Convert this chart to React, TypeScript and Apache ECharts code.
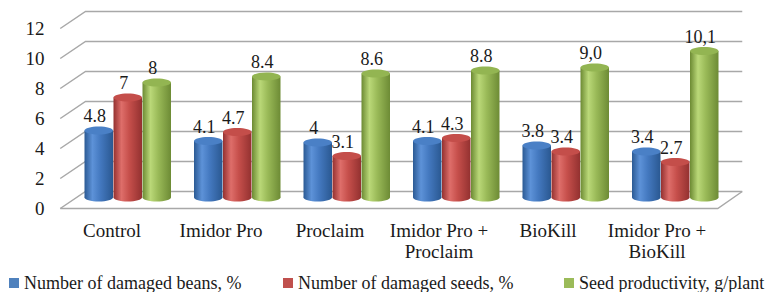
import React, { useEffect, useRef } from "react";
import * as echarts from "echarts";

const categories = ["Control", "Imidor Pro", "Proclaim", "Imidor Pro +\nProclaim", "BioKill", "Imidor Pro +\nBioKill"];
const seriesNames = ["Number of damaged beans, %", "Number of damaged seeds, %", "Seed productivity, g/plant"];
const beans = [4.8, 4.1, 4, 4.1, 3.8, 3.4];
const seeds = [7, 4.7, 3.1, 4.3, 3.4, 2.7];
const productivity = [8, 8.4, 8.6, 8.8, 9.0, 10.1];
const beansLabels = ["4.8", "4.1", "4", "4.1", "3.8", "3.4"];
const seedsLabels = ["7", "4.7", "3.1", "4.3", "3.4", "2.7"];
const productivityLabels = ["8", "8.4", "8.6", "8.8", "9,0", "10,1"];
const yTicks = [0, 2, 4, 6, 8, 10, 12];

const FONT = '"Liberation Serif", "Times New Roman", serif';
const GRID_COLOR = "#a8a8a8";

const palettes = [
  { legend: "#4f81bd", side: ["#2b5a94", "#5d92d8", "#4479c0", "#2a5891"], top: "#4a80c6" },
  { legend: "#c0504d", side: ["#943130", "#de6e6a", "#c64f4b", "#933130"], top: "#c44e4a" },
  { legend: "#9bbb59", side: ["#6c8a33", "#bad878", "#9aba58", "#6d8b35"], top: "#93b552" },
];
const offsets = [-29, 0, 29];

function makeBarRender(idx: number, labels: string[]) {
  return (params: any, api: any) => {
    const ci = api.value(0);
    const v = api.value(1);
    const top = api.coord([ci, v]);
    const base = api.coord([ci, 0]);
    const cx = top[0] + offsets[idx];
    const w = 28.5;
    const rx = w / 2;
    const ry = 4;
    const yTop = top[1];
    const yBot = base[1] - 5;
    const p = palettes[idx];
    const grad = new echarts.graphic.LinearGradient(0, 0, 1, 0, [
      { offset: 0, color: p.side[0] },
      { offset: 0.28, color: p.side[1] },
      { offset: 0.55, color: p.side[2] },
      { offset: 1, color: p.side[3] },
    ]);
    return {
      type: "group",
      children: [
        { type: "ellipse", shape: { cx, cy: yBot, rx, ry }, style: { fill: grad } },
        { type: "rect", shape: { x: cx - rx, y: yTop, width: w, height: yBot - yTop }, style: { fill: grad } },
        { type: "ellipse", shape: { cx, cy: yTop, rx, ry }, style: { fill: p.top } },
        {
          type: "text",
          x: cx - 4,
          y: yTop - 14.5,
          style: {
            text: labels[params.dataIndex],
            fill: "#1a1a1a",
            font: `18px ${FONT}`,
            align: "center",
            verticalAlign: "middle",
          },
        },
      ],
    };
  };
}

function frameRender(params: any, api: any) {
  const v = api.value(1);
  const cs = params.coordSys;
  const y = api.coord([0, v])[1] - 2.5;
  const xl = cs.x;
  const xr = cs.x + cs.width;
  const fl = [xl - 12.75, y + 8.5];
  const bl = [xl + 12.5, y - 8.5];
  const br = [xr + 12.25, y - 8.5];
  const fr = [xr - 12.25, y + 8.5];
  const style = { stroke: GRID_COLOR, lineWidth: 1.5, fill: "none" };
  const children: any[] = [{ type: "polyline", shape: { points: [fl, bl, br] }, style }];
  if (v === 0) children.push({ type: "polyline", shape: { points: [fl, fr, br] }, style });
  return { type: "group", children };
}

export default function App() {
  const ref = useRef<HTMLDivElement>(null);
  useEffect(() => {
    if (!ref.current) return;
    const chart = echarts.init(ref.current, null, { renderer: "svg" });
    const seriesData = [beans, seeds, productivity];
    const seriesLabels = [beansLabels, seedsLabels, productivityLabels];
    const legendLefts = [9, 283, 564];
    chart.setOption({
      animation: false,
      backgroundColor: "#ffffff",
      grid: [
        { left: 73, width: 657, top: 22.5, height: 180 },
        { left: 57.5, width: 654, top: 28.5, height: 180 },
      ],
      xAxis: [
        { gridIndex: 0, type: "category", data: categories, show: false },
        {
          gridIndex: 1,
          type: "category",
          data: categories,
          axisLine: { show: false },
          axisTick: { show: false },
          axisLabel: { margin: 11, fontFamily: FONT, fontSize: 19, lineHeight: 21, color: "#1a1a1a", interval: 0 },
        },
      ],
      yAxis: [
        { gridIndex: 0, type: "value", min: 0, max: 12, interval: 2, show: false },
        {
          gridIndex: 1,
          type: "value",
          min: 0,
          max: 12,
          interval: 2,
          axisLine: { show: false },
          axisTick: { show: false },
          splitLine: { show: false },
          axisLabel: { margin: 13, fontFamily: FONT, fontSize: 19, color: "#1a1a1a" },
        },
      ],
      legend: seriesNames.map((n, i) => ({
        data: [{ name: n, icon: "rect" }],
        left: legendLefts[i],
        top: 273,
        padding: 0,
        itemWidth: 10,
        itemHeight: 10,
        selectedMode: false,
        textStyle: { fontFamily: FONT, fontSize: 18, lineHeight: 20, color: "#1a1a1a" },
      })),
      series: [
        {
          type: "custom",
          name: "frame",
          xAxisIndex: 0,
          yAxisIndex: 0,
          z: 1,
          silent: true,
          data: yTicks.map((t) => [0, t]),
          encode: { x: 0, y: 1 },
          renderItem: frameRender,
        },
        ...seriesNames.map((n, i) => ({
          type: "custom",
          name: n,
          xAxisIndex: 0,
          yAxisIndex: 0,
          z: 2,
          itemStyle: { color: palettes[i].legend },
          data: seriesData[i].map((v, k) => [k, v]),
          encode: { x: 0, y: 1 },
          renderItem: makeBarRender(i, seriesLabels[i]),
        })),
      ],
    });
    return () => chart.dispose();
  }, []);
  return <div ref={ref} style={{ position: "fixed", left: 0, top: 0, width: 769, height: 292 }} />;
}
